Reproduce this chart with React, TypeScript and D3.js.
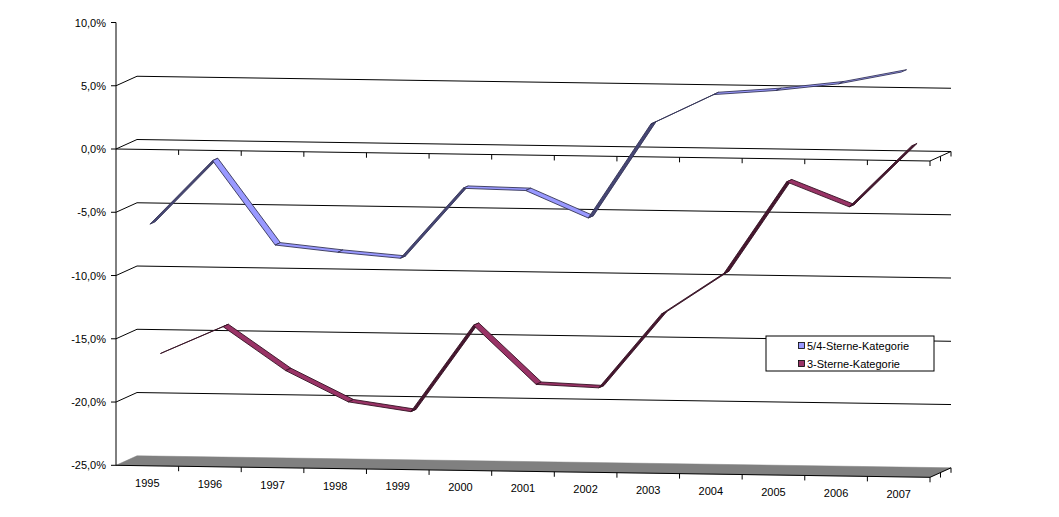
import * as d3 from 'd3';

const WIDTH = 1059;
const HEIGHT = 517;

const years = ['1995', '1996', '1997', '1998', '1999', '2000', '2001', '2002', '2003', '2004', '2005', '2006', '2007'];
const seriesNames = ['5/4-Sterne-Kategorie', '3-Sterne-Kategorie'];
const fourFiveStars = [-6.0, -0.9, -7.5, -8.0, -8.4, -2.8, -2.9, -5.0, 2.5, 4.9, 5.3, 5.9, 6.9];
const threeStars = [-16.6, -14.4, -17.8, -20.2, -20.9, -14.0, -18.6, -18.8, -12.9, -9.6, -2.3, -4.2, 0.7];
const yTicks = [10, 5, 0, -5, -10, -15, -20, -25];

// fake 3D: category axis, value axis, depth (0 = front wall, 1 = back wall)
const FRONT_LEFT = 116;
const FRONT_RIGHT = 930;
const DEPTH_X = 21;
const DEPTH_Y = -9.5;
const TILT = 12 / (FRONT_RIGHT - FRONT_LEFT); // the whole box sags a bit to the right

const COLORS = ['#9999ff', '#993366'];
// each series gets its own row in depth
const ROWS: [number, number][] = [
  [0.125, 0.375],
  [0.625, 0.875],
];

const xScale = d3.scaleLinear().domain([0, years.length]).range([FRONT_LEFT, FRONT_RIGHT]);
const yScale = d3.scaleLinear().domain([-25, 10]).range([465.3, 22.5]);

const proj = (c: number, v: number, z: number): [number, number] => {
  const x = xScale(c);
  return [x + z * DEPTH_X, yScale(v) + (x - FRONT_LEFT) * TILT + z * DEPTH_Y];
};

const pts = (list: [number, number][]) => list.map((p) => p.join(',')).join(' ');

const FONT = 'Arial, "Liberation Sans", sans-serif';

// category axis with ticks along the front edge, at a given value level
const CategoryAxis = ({ level }: { level: number }) => {
  const n = years.length;
  const [x0, y0] = proj(0, level, 0);
  const [x1, y1] = proj(n, level, 0);
  const [x2, y2] = proj(n, level, 1);
  const ticks: [number, number][] = d3.range(1, n + 1).map((i) => proj(i, level, 0));
  ticks.push(proj(n, level, 0.5), proj(n, level, 1));
  return (
    <g stroke="#000" strokeWidth={1} fill="none">
      <polyline points={pts([[x0, y0], [x1, y1], [x2, y2]])} />
      {ticks.map(([x, y], i) => (
        <line key={i} x1={x} x2={x} y1={y} y2={y + 5} />
      ))}
    </g>
  );
};

const Ribbon = ({ values, color, row }: { values: number[]; color: string; row: [number, number] }) => {
  const [z0, z1] = row;
  const dark = d3.color(color)!.darker(2.2).formatHex();
  const edge = d3.color(color)!.darker(3).formatHex();
  const segments = d3.pairs(values.map((v, i) => [i + 0.5, v] as [number, number]));
  return (
    <g>
      {segments.map(([[ca, va], [cb, vb]], i) => {
        const a = proj(ca, va, z0);
        const b = proj(cb, vb, z0);
        const c = proj(cb, vb, z1);
        const d = proj(ca, va, z1);
        const slope = (b[1] - a[1]) / (b[0] - a[0]);
        const topVisible = slope > DEPTH_Y / DEPTH_X;
        return (
          <polygon
            key={i}
            points={pts([a, b, c, d])}
            fill={topVisible ? color : dark}
            stroke={edge}
            strokeWidth={0.9}
            strokeLinejoin="round"
          />
        );
      })}
    </g>
  );
};

export default function App() {
  const n = years.length;
  const gridLevels = yTicks.filter((v) => v < 10 && v > -25);

  const floor = [proj(0, -25, 0), proj(n, -25, 0), proj(n, -25, 1), proj(0, -25, 1)];

  return (
    <svg
      width={WIDTH}
      height={HEIGHT}
      style={{ position: 'absolute', left: 0, top: 0, background: '#fff' }}
      fontFamily={FONT}
    >
      {/* walls: gridlines on the side wall and back wall */}
      <g stroke="#000" strokeWidth={1} fill="none">
        {gridLevels.map((v) => (
          <polyline key={v} points={pts([proj(0, v, 0), proj(0, v, 1), proj(n, v, 1)])} />
        ))}
      </g>

      {/* floor */}
      <polygon points={pts(floor)} fill="#808080" stroke="#808080" strokeWidth={0.5} />

      {/* value axis */}
      <g stroke="#000" strokeWidth={1}>
        <line x1={FRONT_LEFT} x2={FRONT_LEFT} y1={yScale(10)} y2={yScale(-25)} />
        {yTicks.map((v) => (
          <line key={v} x1={FRONT_LEFT - 5} x2={FRONT_LEFT} y1={yScale(v)} y2={yScale(v)} />
        ))}
      </g>
      <g fontSize={11} textAnchor="end" fill="#000">
        {yTicks.map((v) => (
          <text key={v} x={106} y={yScale(v) + 4}>
            {d3.format('.1f')(v).replace('.', ',').replace('−', '-') + '%'}
          </text>
        ))}
      </g>

      <CategoryAxis level={0} />

      {/* back row first, then the front row */}
      <Ribbon values={threeStars} color={COLORS[1]} row={ROWS[1]} />
      <Ribbon values={fourFiveStars} color={COLORS[0]} row={ROWS[0]} />

      <CategoryAxis level={-25} />
      <g fontSize={11} textAnchor="middle" fill="#000">
        {years.map((yr, i) => {
          const [x, y] = proj(i + 0.5, -25, 0);
          return (
            <text key={yr} x={x} y={y + 21}>
              {yr}
            </text>
          );
        })}
      </g>

      {/* legend */}
      <g>
        <rect x={766} y={336} width={168} height={35} fill="#fff" stroke="#000" strokeWidth={1} />
        {seriesNames.map((name, i) => (
          <g key={name}>
            <rect
              x={798.5}
              y={342.5 + i * 18}
              width={6}
              height={6}
              fill={COLORS[i]}
              stroke="#000"
              strokeWidth={0.8}
            />
            <text x={807} y={349.5 + i * 18} fontSize={11} fill="#000">
              {name}
            </text>
          </g>
        ))}
      </g>
    </svg>
  );
}
